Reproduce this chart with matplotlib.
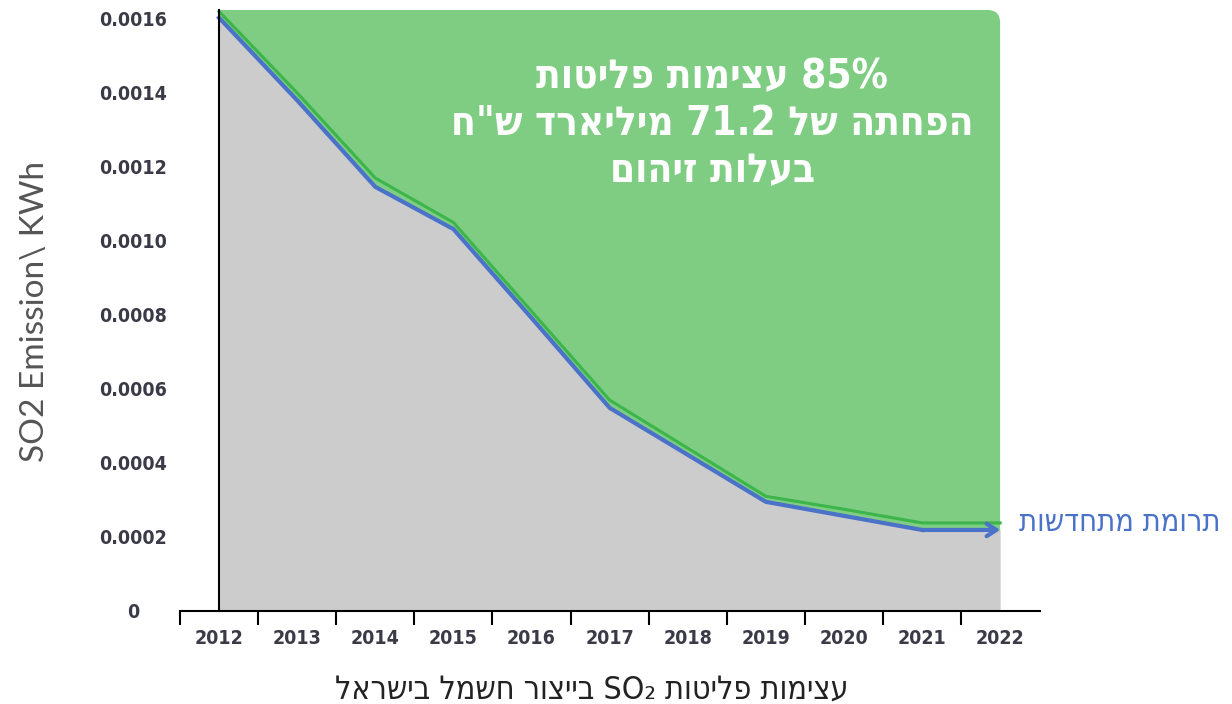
import numpy as np
import matplotlib
matplotlib.use("Agg")
import matplotlib.pyplot as plt
from matplotlib.patches import FancyBboxPatch

years = [2012, 2013, 2014, 2015, 2016, 2017, 2018, 2019, 2020, 2021, 2022]
so2_actual = [0.001603, 0.00138, 0.001146, 0.001032, 0.000792, 0.000549,
              0.000422, 0.000295, 0.000257, 0.000219, 0.000219]
so2_upper = [0.00162, 0.00140, 0.00117, 0.00105, 0.00081, 0.00057,
             0.00044, 0.00031, 0.000275, 0.000238, 0.000238]
y_ticks = [0, 0.0002, 0.0004, 0.0006, 0.0008, 0.0010, 0.0012, 0.0014, 0.0016]
y_tick_labels = ["0", "0.0002", "0.0004", "0.0006", "0.0008", "0.0010",
                 "0.0012", "0.0014", "0.0016"]
top_val = 0.001624

headline = ["85% עצימות פליטות", 'הפחתה של 71.2 מיליארד ש"ח', "בעלות זיהום"]
arrow_label = "תרומת מתחדשות"
x_title = "עצימות פליטות SO₂ בייצור חשמל בישראל"
y_title = "SO2 Emission\\ KWh"


def heb(s):
    # matplotlib has no bidi: flip word order and hebrew words by hand
    out = []
    for w in reversed(s.split(" ")):
        if any("\u0590" <= c <= "\u05ff" for c in w):
            out.append(w[::-1])
        else:
            out.append(w)
    return " ".join(out)


GRAY = "#cccccc"
GREEN_FILL = "#7fcd82"
GREEN_LINE = "#3cb54a"
BLUE = "#4a72c9"
TICK_C = "#3b3b48"

fig = plt.figure(figsize=(12.32, 7.04), dpi=100)
ax = fig.add_axes([180 / 1232, 93 / 704, 860 / 1232, 601 / 704])

x = np.array(years)
ax.fill_between(x, 0, so2_actual, color=GRAY, lw=0, zorder=1)
green = ax.fill_between(x, so2_actual, top_val, color=GREEN_FILL, lw=0, zorder=1)

# rounded top-right corner of the green block
clip = FancyBboxPatch((2011.0, -0.001), 11.0, top_val + 0.001,
                      boxstyle="round,pad=0,rounding_size=0.16",
                      mutation_aspect=2.2e-4, transform=ax.transData,
                      fc="none", ec="none")
ax.add_patch(clip)
green.set_clip_path(clip)

ax.plot(x, so2_upper, color=GREEN_LINE, lw=2.2, zorder=3)
ax.plot(x[:-1], so2_actual[:-1], color=BLUE, lw=3, zorder=4, solid_joinstyle="round")
ax.annotate("", xy=(x[-1], so2_actual[-1]), xytext=(x[-2], so2_actual[-2]),
            arrowprops=dict(arrowstyle="->,head_length=0.7,head_width=0.45",
                            color=BLUE, lw=3, shrinkA=0, shrinkB=0), zorder=5)

ax.text(2022.24, 0.000238, heb(arrow_label), color=BLUE, fontsize=22,
        ha="left", va="center", family="DejaVu Sans", fontstretch="condensed",
        clip_on=False)

for i, line in enumerate(headline):
    fig.text(712 / 1232, 1 - (77 + 47 * i) / 704, heb(line), color="white",
             fontsize=29, fontweight="bold", ha="center", va="center",
             family="DejaVu Sans", fontstretch="condensed")

ax.set_xlim(2011.528, 2022.51)
ax.set_ylim(0, top_val)

ax.spines["top"].set_visible(False)
ax.spines["right"].set_visible(False)
ax.spines["left"].set_position(("data", 2012))
ax.spines["left"].set_linewidth(1.5)
ax.spines["left"].set_zorder(6)
ax.spines["bottom"].set_linewidth(1.5)

ax.set_xticks(years)
ax.set_xticklabels([str(y) for y in years])
ax.set_xticks(np.arange(2011.5, 2022, 1), minor=True)
ax.tick_params(axis="x", which="major", length=0, pad=13, labelsize=14,
               labelcolor=TICK_C)
ax.tick_params(axis="x", which="minor", length=10, width=1.5, direction="out")
for t in ax.get_xticklabels():
    t.set_family("DejaVu Sans")
    t.set_stretch("condensed")
    t.set_fontweight("bold")

ax.set_yticks(y_ticks)
ax.set_yticklabels(y_tick_labels)
ax.tick_params(axis="y", length=0, pad=62, labelsize=14, labelcolor=TICK_C)
for t in ax.get_yticklabels():
    t.set_family("DejaVu Sans")
    t.set_stretch("condensed")
    t.set_fontweight("bold")
    t.set_horizontalalignment("center")

fig.text(35 / 1232, 1 - 312 / 704, y_title, rotation=90, fontsize=24,
         color="#555555", ha="center", va="center", family="Lato")
fig.text(592 / 1232, 1 - 690 / 704, heb(x_title), fontsize=23, color="#222222",
         ha="center", va="center", family="DejaVu Sans", fontstretch="condensed")

fig.savefig("out.png", dpi=100)
